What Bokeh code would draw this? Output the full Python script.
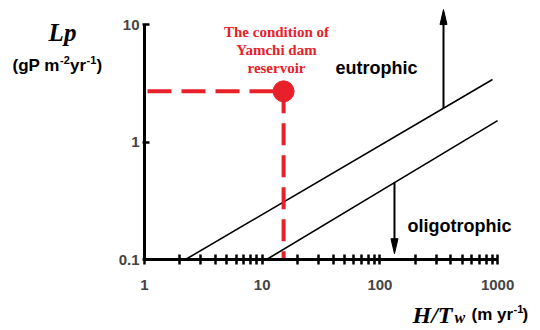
import numpy as np
from bokeh.plotting import figure
from bokeh.models import Label, FixedTicker, CustomJSTickFormatter
from bokeh.embed import file_html
from bokeh.resources import INLINE

# ---- data ----
x_ticks = [1, 10, 100, 1000]
x_minor = [2, 3, 4, 5, 6, 7, 8, 9, 20, 30, 40, 50, 60, 70, 80, 90,
           200, 300, 400, 500, 600, 700, 800, 900]
y_ticks = [0.1, 1, 10]

eutro_x = [2.23, 905]      # upper boundary line (H/Tw)
eutro_y = [0.1, 3.4]       # Lp
oligo_x = [10.9, 1000]     # lower boundary line
oligo_y = [0.1, 1.52]

yamchi_x = [15.2]          # H/Tw of Yamchi dam reservoir
yamchi_lp = [2.7]          # Lp of Yamchi dam reservoir

arrow_up_x = 347
arrow_up_tip = 13.4
arrow_down_x = 133
arrow_down_tip = 0.112

RED = "#e8202a"

# ---- geometry (canvas pixels) ----
W, H = 540, 330
X0PX, Y0PX = 144, 259          # pixel of x=1 and of y=0.1
PX_DEC_X = 117.7
PX_DEC_Y = 117.5


def xd(px):  # canvas px -> data x
    return 10 ** ((px - X0PX) / PX_DEC_X)


def yd(py):  # canvas py -> data y
    return 10 ** ((Y0PX - py) / PX_DEC_Y - 1)


def on_line(xs, ys, x):
    lx, ly = np.log10(xs), np.log10(ys)
    return 10 ** (ly[0] + (ly[1] - ly[0]) * (np.log10(x) - lx[0]) / (lx[1] - lx[0]))


p = figure(width=W, height=H, x_axis_type="log", y_axis_type="log",
           x_range=(xd(0), xd(W)), y_range=(yd(H), yd(0)),
           output_backend="svg", toolbar_location=None,
           min_border_left=0, min_border_right=0,
           min_border_top=0, min_border_bottom=0)
p.xgrid.visible = False
p.ygrid.visible = False
p.outline_line_color = None

xa = p.xaxis[0]
xa.fixed_location = 0.1
xa.ticker = FixedTicker(ticks=x_ticks, minor_ticks=x_minor)
xa.bounds = (1, 1000)
xa.formatter = CustomJSTickFormatter(code="return String(tick)")
xa.axis_line_width = 3
xa.major_tick_line_width = 2.5
xa.minor_tick_line_width = 2.5
xa.major_tick_in = 5
xa.major_tick_out = 5
xa.minor_tick_in = 5
xa.minor_tick_out = 5
xa.major_label_standoff = 15
xa.major_label_text_font = "Liberation Sans"
xa.major_label_text_font_style = "bold"
xa.major_label_text_font_size = "15px"

ya = p.yaxis[0]
ya.fixed_location = 1
ya.ticker = FixedTicker(ticks=y_ticks, minor_ticks=[])
ya.bounds = (0.1, 10)
ya.formatter = CustomJSTickFormatter(code="return String(tick)")
ya.axis_line_width = 3
ya.major_tick_line_width = 2.5
ya.major_tick_in = 5
ya.major_tick_out = 2
ya.minor_tick_in = 0
ya.minor_tick_out = 0
ya.major_label_standoff = 3
ya.major_label_text_font = "Liberation Sans"
ya.major_label_text_font_style = "bold"
ya.major_label_text_font_size = "15px"

# boundary lines
p.line(eutro_x, eutro_y, line_width=1.6, color="black")
p.line(oligo_x, oligo_y, line_width=1.6, color="black")

# arrows
up_base = on_line(eutro_x, eutro_y, arrow_up_x)
down_base = on_line(oligo_x, oligo_y, arrow_down_x)
head_len = 15
head_hw = 3.5
up_neck = arrow_up_tip * 10 ** (-head_len / PX_DEC_Y)
down_neck = arrow_down_tip * 10 ** (head_len / PX_DEC_Y)
p.segment([arrow_up_x, arrow_down_x], [up_base, down_base],
          [arrow_up_x, arrow_down_x], [up_neck, down_neck],
          line_width=2, color="black")
fx = 10 ** (head_hw / PX_DEC_X)
p.patches(
    [[arrow_up_x / fx, arrow_up_x, arrow_up_x * fx],
     [arrow_down_x / fx, arrow_down_x, arrow_down_x * fx]],
    [[up_neck, arrow_up_tip, up_neck],
     [down_neck, arrow_down_tip, down_neck]],
    color="black", line_width=1)

# Yamchi condition
p.line([xd(147), yamchi_x[0]], [yamchi_lp[0], yamchi_lp[0]],
       line_width=4, color=RED, line_dash="24 10")
p.line([yamchi_x[0], yamchi_x[0]], [yamchi_lp[0], 0.1],
       line_width=4, color=RED, line_dash="22 10")
p.scatter(yamchi_x, yamchi_lp, size=21, color=RED)


def lab(text, px, py, size, font="Liberation Sans", style="bold",
        color="black", align="left"):
    p.add_layout(Label(x=xd(px), y=yd(py), text=text, text_font=font,
                       text_font_size=f"{size}px", text_font_style=style,
                       text_color=color, text_align=align,
                       text_baseline="alphabetic"))


# red annotation
lab("The condition of", 276, 31, 15, font="Liberation Serif", color=RED, align="center")
lab("Yamchi dam", 276, 49, 15, font="Liberation Serif", color=RED, align="center")
lab("reservoir", 276, 67, 15, font="Liberation Serif", color=RED, align="center")

lab("eutrophic", 335, 67, 18)
lab("oligotrophic", 407, 225, 18)

# y title
lab("Lp", 62, 32, 25, font="Liberation Serif", style="bold italic", align="center")
x0 = 12
lab("(gP m", x0, 65, 17)
lab("-2", x0 + 47.5, 59, 11)
lab("yr", x0 + 57.5, 65, 17)
lab("-1", x0 + 74, 59, 11)
lab(")", x0 + 84, 65, 17)

# x title
x1 = 412
lab("H/T", x1, 314, 24, font="Liberation Serif", style="bold italic")
lab("w", x1 + 42, 317, 16, font="Liberation Serif", style="bold italic")
lab("(m yr", x1 + 59, 314, 17)
lab("-1", x1 + 101, 308, 11)
lab(")", x1 + 110, 314, 17)

open("out.html", "w").write(file_html(p, INLINE))
